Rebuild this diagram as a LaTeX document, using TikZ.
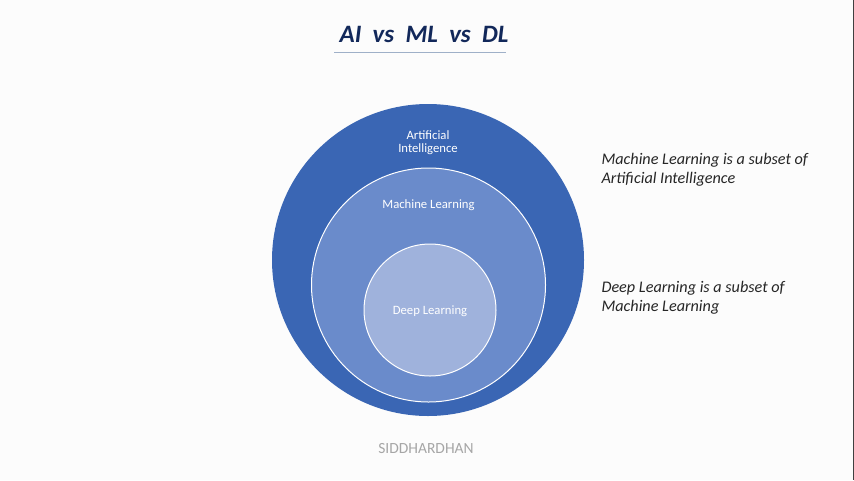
\documentclass[tikz,border=0pt]{standalone}
\usepackage{fontspec}
\setmainfont{Carlito}
\definecolor{aiblue}{HTML}{3A66B4}
\definecolor{mlblue}{HTML}{6A8BCB}
\definecolor{dlblue}{HTML}{9FB2DC}
\definecolor{titlenavy}{HTML}{12285A}
\definecolor{rulegray}{HTML}{9FB0C8}
\begin{document}
\begin{tikzpicture}[x=1pt,y=-1pt,
  circlab/.style={text=white,font=\fontsize{12.7}{14}\selectfont,align=center},
  sidetext/.style={anchor=west,font=\fontsize{16.2}{19}\selectfont\itshape,align=left,text=black!85}]
\useasboundingbox (0,0) rectangle (854,480);
\fill[white!99!black] (0,0) rectangle (854,480);
\fill[black!75] (852.5,0) rectangle (854,480);
% title
\node (title) at (424,34) {\fontsize{25}{28}\selectfont\bfseries\itshape\textcolor{titlenavy}{AI\ \ vs\ \ ML\ \ vs\ \ DL}};
\coordinate (ul) at (334,52);
\coordinate (ur) at (506,52);
\draw[rulegray,line width=0.8pt] (ul) -- (ur);
% circles
\fill[aiblue] (428,260) circle (156);
\filldraw[fill=mlblue,draw=white,line width=1pt] (428.5,285) circle (117);
\filldraw[fill=dlblue,draw=white,line width=1pt] (430,310) circle (66);
\node[circlab] (ai) at (428,143) {Artificial\\[-1pt]Intelligence};
\node[circlab] (ml) at (428.5,205) {Machine Learning};
\node[circlab] (dl) at (430,311) {Deep Learning};
% side texts
\node[sidetext] (t1) at (598,170) {Machine Learning is a subset of\\Artificial Intelligence};
\node[sidetext] (t2) at (598,298) {Deep Learning is a subset of\\Machine Learning};
\node[text=black!35,font=\fontsize{15.5}{17}\selectfont] (sig) at (426,449) {SIDDHARDHAN};
\end{tikzpicture}
\end{document}
